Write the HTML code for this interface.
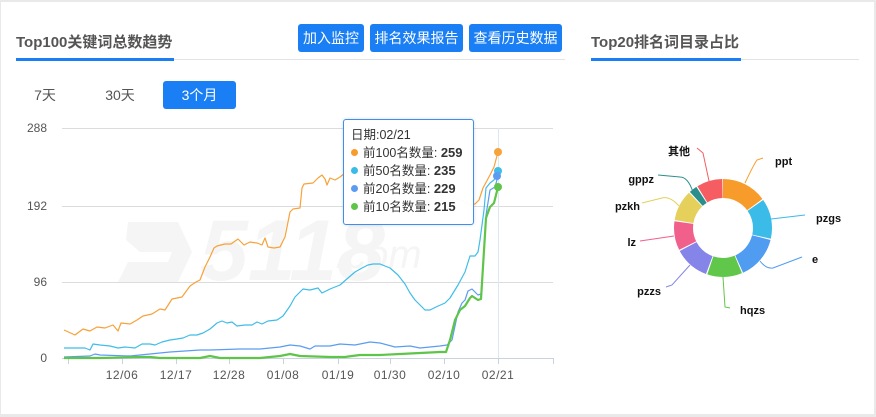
<!DOCTYPE html>
<html><head><meta charset="utf-8"><style>
body{margin:0;width:876px;height:417px;background:#e9e9e9;font-family:"Liberation Sans","Noto Sans CJK SC",sans-serif;position:relative;overflow:hidden}
.card{position:absolute;left:1px;top:2px;width:873px;height:412px;background:#fff}
.t{position:absolute;font-weight:bold;font-size:15px;color:#555;top:31px}
.btn{position:absolute;top:24px;height:28px;line-height:28px;background:#1a7ef5;color:#fff;border-radius:3px;font-size:14px;text-align:center}
.tab{position:absolute;top:81px;height:28px;line-height:28px;font-size:14px;color:#555;text-align:center}
.yl{position:absolute;width:40px;text-align:right;left:7px;font-size:12px;color:#555}
.xl{position:absolute;top:368px;font-size:12px;color:#555;width:40px;text-align:center;letter-spacing:0.5px}
.tip{position:absolute;left:343px;top:119px;width:131px;height:106px;background:rgba(255,255,255,0.96);border:1px solid #3d8ef0;border-radius:3px;font-size:12.5px;color:#333;box-sizing:border-box;padding:6px 0 0 7px;line-height:18px;box-shadow:0 0 3px rgba(0,0,0,0.15)}
.tip b{font-size:13px}
.dot{display:inline-block;width:7px;height:7px;border-radius:50%;margin-right:5px;vertical-align:1px}
</style></head><body>
<div class="card"></div>
<div class="t" style="left:16px">Top100关键词总数趋势</div>
<div style="position:absolute;left:16px;top:59px;width:549px;height:1px;background:#e3e3e3"></div>
<div style="position:absolute;left:16px;top:58px;width:158px;height:3px;background:#1a7ef5"></div>
<div class="btn" style="left:298px;width:66px">加入监控</div>
<div class="btn" style="left:370px;width:93px">排名效果报告</div>
<div class="btn" style="left:469px;width:93px">查看历史数据</div>
<div class="tab" style="left:30px;width:30px">7天</div>
<div class="tab" style="left:100px;width:40px">30天</div>
<div class="tab" style="left:163px;width:73px;background:#1a7ef5;color:#fff;border-radius:3px">3个月</div>

<div class="t" style="left:591px">Top20排名词目录占比</div>
<div style="position:absolute;left:591px;top:59px;width:268px;height:1px;background:#e3e3e3"></div>
<div style="position:absolute;left:591px;top:58px;width:150px;height:3px;background:#1a7ef5"></div>

<div class="yl" style="top:121px">288</div>
<div class="yl" style="top:199px">192</div>
<div class="yl" style="top:275px">96</div>
<div class="yl" style="top:351px">0</div>
<div class="xl" style="left:102px">12/06</div>
<div class="xl" style="left:156px">12/17</div>
<div class="xl" style="left:209px">12/28</div>
<div class="xl" style="left:263px">01/08</div>
<div class="xl" style="left:318px">01/19</div>
<div class="xl" style="left:370px">01/30</div>
<div class="xl" style="left:424px">02/10</div>
<div class="xl" style="left:478px">02/21</div>

<svg width="876" height="417" style="position:absolute;left:0;top:0">
<g fill="#f5f5f5">
<path d="M128 222 L178 222 L192 252 L178 282 L118 282 L128 262 L168 262 L172 252 L140 252 L126 240 Z"/>
<text x="200" y="280" font-size="86" font-style="italic" font-weight="bold" font-family="Liberation Sans" fill="#f5f5f5">5118</text>
<text x="335" y="268" font-size="40" font-style="italic" font-family="Liberation Sans" fill="#f5f5f5">.com</text>
</g>
<g stroke="#dcdcdc" stroke-width="1">
<line x1="62" y1="128.5" x2="553" y2="128.5"/>
<line x1="62" y1="206.5" x2="553" y2="206.5"/>
<line x1="62" y1="282.5" x2="553" y2="282.5"/>
</g>
<line x1="62" y1="358.5" x2="553" y2="358.5" stroke="#c9d3e0"/>
<g stroke="#c9d3e0">
<line x1="68.5" y1="358" x2="68.5" y2="364"/><line x1="122.5" y1="358" x2="122.5" y2="364"/><line x1="176.5" y1="358" x2="176.5" y2="364"/><line x1="229.5" y1="358" x2="229.5" y2="364"/><line x1="283.5" y1="358" x2="283.5" y2="364"/><line x1="338.5" y1="358" x2="338.5" y2="364"/><line x1="390.5" y1="358" x2="390.5" y2="364"/><line x1="444.5" y1="358" x2="444.5" y2="364"/><line x1="498.5" y1="358" x2="498.5" y2="364"/><line x1="553.5" y1="358" x2="553.5" y2="364"/>
</g>
<line x1="498.5" y1="128" x2="498.5" y2="358" stroke="#dde7f3"/>
<g fill="none" stroke-linejoin="round">
<polyline stroke="#f7a23a" stroke-width="1.2" points="64,330 75,335 83,329 90,331 97,327 105,328 113,325 118,331 121,323 130,324 137,320 143,316 152,314 160,309 165,310 172,299 182,297 190,286 196,282 200,280 205,267 210,257 214,248 217,246 225,244 231,244 238,239 244,245 250,242 257,243 262,245 265,238 268,247 274,248 280,247 285,237 290,212 293,209 300,208 302,188 304,184 313,183 318,178 322,175 325,179 327,185 330,178 335,180 340,177 345,173 350,170 360,172 380,170 400,176 420,182 440,190 460,200 470,205 475,204 479,200 483,188 490,175 494,167 498,152"/>
<polyline stroke="#3fbde8" stroke-width="1.2" points="64,348 75,348 85,348 90,350 93,344 100,345 110,346 118,348 125,347 135,348 142,344 150,344 155,345 162,342 170,340 177,339 183,338 190,335 197,335 203,333 210,329 217,323 222,321 227,323 232,322 237,326 245,325 252,325 257,322 262,324 268,321 277,320 283,316 290,306 295,297 300,292 303,289 310,290 318,288 322,293 330,289 340,285 348,278 355,272 362,268 368,265 373,264 380,264 385,266 390,268 398,275 405,284 410,293 415,300 418,303 422,307 425,310 430,310 436,307 445,303 450,298 458,285 465,272 470,256 475,256 478,252 480,240 484,210 486,188 490,183 494,180 498,171"/>
<polyline stroke="#5b9cf2" stroke-width="1.2" points="64,357 90,356 95,354 100,355 130,356 150,354 170,352 200,350 210,350 240,349 260,349 280,347 290,345 300,346 310,349 315,346 330,346 340,344 355,345 370,342 380,343 395,347 410,346 420,348 440,346 447,345 452,340 458,312 462,303 465,300 468,291 472,289 478,295 481,294 484,250 486,215 490,190 495,187 498,176"/>
<polyline stroke="#5ec44a" stroke-width="2.2" points="64,358 100,358 140,357 150,357 160,358 200,358 210,356 220,358 260,358 280,356 290,354 295,355 300,356 330,357 345,357 352,356 360,355 380,355 400,354 420,353 440,352 446,352 450,340 455,320 460,310 465,306 470,298 472,296 478,300 481,299 486,218 490,207 494,203 498,187"/>
</g>
<circle cx="498" cy="152" r="4" fill="#f7a23a"/>
<circle cx="498" cy="171" r="4" fill="#3fbde8"/>
<circle cx="497" cy="176" r="4" fill="#5b9cf2"/>
<circle cx="498" cy="187" r="4" fill="#5ec44a"/>

<g transform="translate(723,228) rotate(-90)" fill="none" stroke-width="19">
<circle r="39.5" stroke="#f79c2b" stroke-dasharray="36.9 300" stroke-dashoffset="0"/>
<circle r="39.5" stroke="#3bbbe8" stroke-dasharray="32.8 300" stroke-dashoffset="-37.9"/>
<circle r="39.5" stroke="#4f9cf0" stroke-dasharray="35.5 300" stroke-dashoffset="-71.7"/>
<circle r="39.5" stroke="#60c74b" stroke-dasharray="28.6 300" stroke-dashoffset="-108.2"/>
<circle r="39.5" stroke="#8584e8" stroke-dasharray="28.6 300" stroke-dashoffset="-137.9"/>
<circle r="39.5" stroke="#f0608a" stroke-dasharray="23.8 300" stroke-dashoffset="-167.5"/>
<circle r="39.5" stroke="#e4d05a" stroke-dasharray="25.2 300" stroke-dashoffset="-192.3"/>
<circle r="39.5" stroke="#2a8f8c" stroke-dasharray="6.6 300" stroke-dashoffset="-218.5"/>
<circle r="39.5" stroke="#f55d63" stroke-dasharray="21.1 300" stroke-dashoffset="-226.1"/>
</g>
<g fill="none" stroke-width="1">
<path d="M745 183 Q754 164 757 160 L763 158" stroke="#f79c2b"/>
<path d="M771 219 L805 215" stroke="#3bbbe8"/>
<path d="M760 261 Q766 269 773 268 L802 257" stroke="#4f9cf0"/>
<path d="M723 277 L725 307 L730 308" stroke="#60c74b"/>
<path d="M690 265 L672 285 L666 287" stroke="#8584e8"/>
<path d="M674 236 L640 241" stroke="#f0608a"/>
<path d="M679 206 Q670 196 662 198 L642 203" stroke="#e4d05a"/>
<path d="M693 192 Q688 177 680 177 L658 175" stroke="#2a8f8c"/>
<path d="M709 181 L703 153 L697 148" stroke="#f55d63"/>
</g>
<g font-size="11" font-weight="bold" fill="#111" font-family="Liberation Sans,Noto Sans CJK SC,sans-serif">
<text x="775" y="165">ppt</text>
<text x="816" y="222">pzgs</text>
<text x="812" y="263">e</text>
<text x="740" y="314">hqzs</text>
<text x="661" y="295" text-anchor="end">pzzs</text>
<text x="636" y="246" text-anchor="end">lz</text>
<text x="640" y="210" text-anchor="end">pzkh</text>
<text x="654" y="183" text-anchor="end">gppz</text>
<text x="690" y="155" text-anchor="end">其他</text>
</g>
</svg>

<div class="tip">日期:02/21<br>
<span class="dot" style="background:#f79c2b"></span>前100名数量: <b>259</b><br>
<span class="dot" style="background:#3bbbe8"></span>前50名数量: <b>235</b><br>
<span class="dot" style="background:#5b9cf2"></span>前20名数量: <b>229</b><br>
<span class="dot" style="background:#5ec44a"></span>前10名数量: <b>215</b></div>
</body></html>
